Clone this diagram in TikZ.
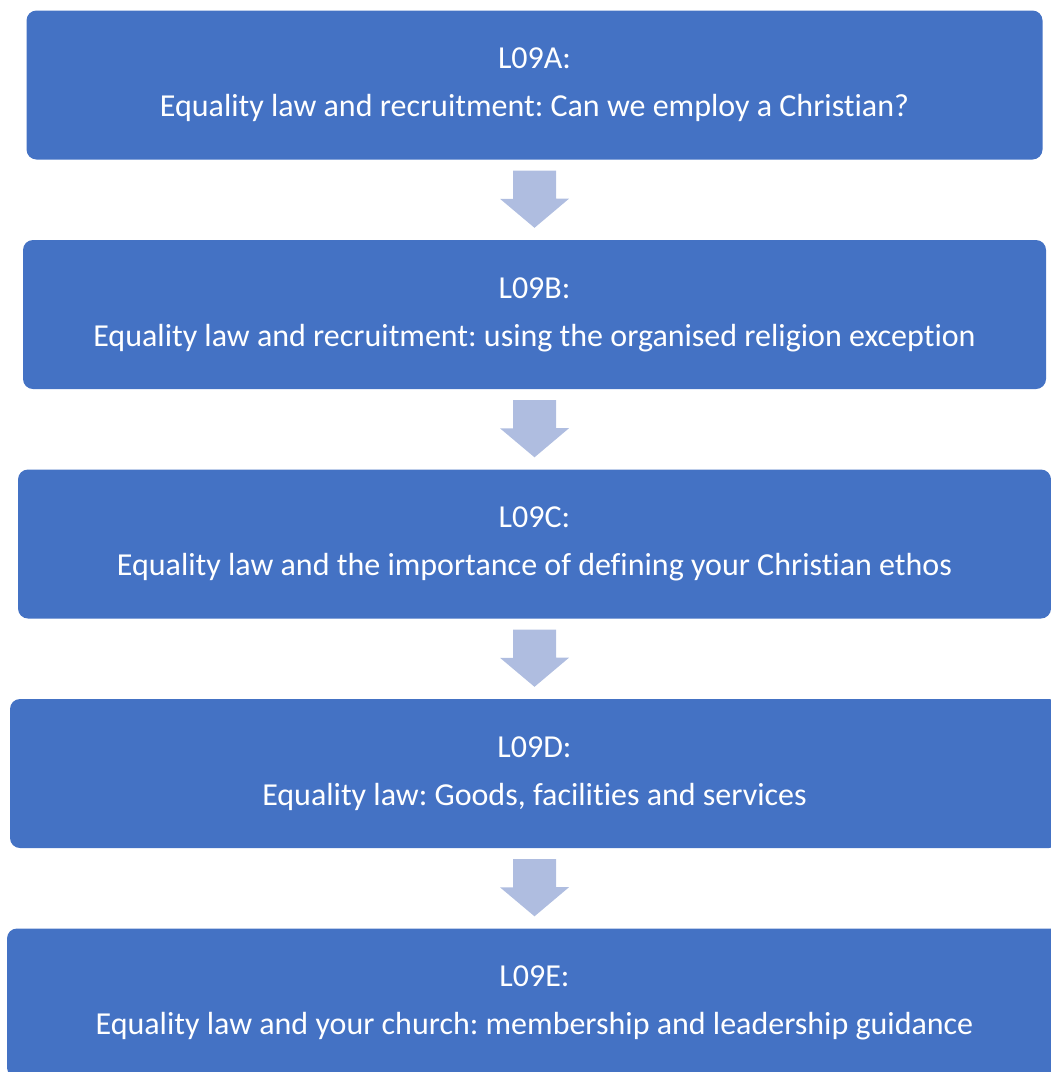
\documentclass[tikz,border=0pt]{standalone}
\usepackage{fontspec}
\setmainfont[Ligatures={NoCommon,NoDiscretionary}]{Carlito}
\frenchspacing
\usetikzlibrary{calc}
\definecolor{boxblue}{RGB}{68,114,196}
\definecolor{arrowblue}{RGB}{175,189,224}

\begin{document}
\begin{tikzpicture}[x=1pt, y=-1pt,
	lobox/.style={fill=boxblue, rounded corners=10pt, text=white, align=center, inner sep=0pt, minimum height=149pt, font=\fontsize{32}{48}\selectfont},
	flowarrow/.style={fill=arrowblue}]
	\useasboundingbox (0,0) rectangle (1051,1072);
	\node[lobox, minimum width=1016pt] (a) at (534.5,85) {L09A:\\Equality law and recruitment: Can we employ a Christian?};
	\node[lobox, minimum width=1023pt] (b) at (534.5,314.5) {L09B:\\Equality law and recruitment: using the organised religion exception};
	\node[lobox, minimum width=1033pt] (c) at (534.5,544) {L09C:\\Equality law and the importance of defining your Christian ethos};
	\node[lobox, minimum width=1049pt] (d) at (534.5,773.5) {L09D:\\Equality law: Goods, facilities and services};
	\node[lobox, minimum width=1055pt] (e) at (534.5,1003) {L09E:\\Equality law and your church: membership and leadership guidance};
	\foreach \u/\v in {a/b,b/c,c/d,d/e}
	  \fill[flowarrow] ($(\u.south)+(-21.5,11)$) -- ++(43,0) -- ++(0,28) -- ++(13,0) -- ($(\v.north)+(0,-12)$) -- ++(-34.5,-29) -- ++(13,0) -- cycle;
\end{tikzpicture}
\end{document}
